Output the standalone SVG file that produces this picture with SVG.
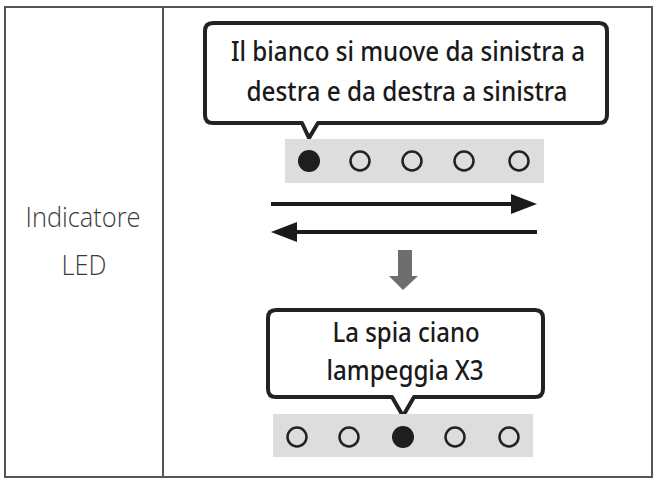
<svg xmlns="http://www.w3.org/2000/svg" width="656" height="479" viewBox="0 0 656 479">
<defs>
<style>
.frame{fill:none;stroke:#555;stroke-width:2}
.bubble{fill:#fff;stroke:#222;stroke-width:4;stroke-linejoin:round}
.bar{fill:#ddd}
.off{fill:none;stroke:#222;stroke-width:2.5}
.on{fill:#1e1e1e}
.bt{font-family:"Noto Sans","Open Sans",sans-serif;font-weight:500;font-size:27px;fill:#1a1a1a;text-anchor:middle}
.lbl{font-family:"Open Sans","Noto Sans",sans-serif;font-weight:300;font-size:27px;fill:#3a3a3a;text-anchor:middle}
.line{stroke:#1a1a1a;stroke-width:4}
</style>
</defs>
<rect width="656" height="479" fill="#fff"/>
<g id="table">
<rect class="frame" x="5" y="7" width="647" height="470"/>
<line class="frame" x1="163" y1="7" x2="163" y2="477"/>
</g>
<g id="label">
<text class="lbl" x="83" y="227" textLength="115" lengthAdjust="spacingAndGlyphs">Indicatore</text>
<text class="lbl" x="84" y="275" textLength="45" lengthAdjust="spacingAndGlyphs">LED</text>
</g>
<g id="callout1">
<path class="bubble" d="M213,23 H599 Q607,23 607,31 V115 Q607,123 599,123 H318 L309,138 L302,123 H213 Q205,123 205,115 V31 Q205,23 213,23 Z"/>
<text class="bt" x="408" y="61" textLength="354" lengthAdjust="spacingAndGlyphs">Il bianco si muove da sinistra a</text>
<text class="bt" x="407" y="101" textLength="321" lengthAdjust="spacingAndGlyphs">destra e da destra a sinistra</text>
</g>
<g id="led1">
<rect class="bar" x="285" y="139" width="259" height="44"/>
<circle class="on" cx="309" cy="161" r="11"/>
<circle class="off" cx="360" cy="161" r="9.5"/>
<circle class="off" cx="412" cy="161" r="9.5"/>
<circle class="off" cx="464" cy="161" r="9.5"/>
<circle class="off" cx="519" cy="161" r="9.5"/>
</g>
<g id="connectors">
<line class="line" x1="271" y1="204" x2="514" y2="204"/>
<polygon points="537,204 511,194 511,214" fill="#1a1a1a"/>
<line class="line" x1="294" y1="232" x2="537" y2="232"/>
<polygon points="271,232 297,222 297,242" fill="#1a1a1a"/>
<polygon points="398,250 412,250 412,276 418,276 403,290 389,276 398,276" fill="#6e6e6e"/>
</g>
<g id="callout2">
<path class="bubble" d="M276,310 H535 Q543,310 543,318 V389 Q543,397 535,397 H414 L403,416 L392,397 H276 Q268,397 268,389 V318 Q268,310 276,310 Z"/>
<text class="bt" x="406" y="342" textLength="147" lengthAdjust="spacingAndGlyphs">La spia ciano</text>
<text class="bt" x="405" y="380" textLength="157" lengthAdjust="spacingAndGlyphs">lampeggia X3</text>
</g>
<g id="led2">
<rect class="bar" x="273" y="414" width="260" height="43"/>
<circle class="off" cx="297" cy="437" r="9.5"/>
<circle class="off" cx="349" cy="437" r="9.5"/>
<circle class="on" cx="403" cy="437" r="11"/>
<circle class="off" cx="455" cy="437" r="9.5"/>
<circle class="off" cx="509" cy="437" r="9.5"/>
</g>
</svg>
